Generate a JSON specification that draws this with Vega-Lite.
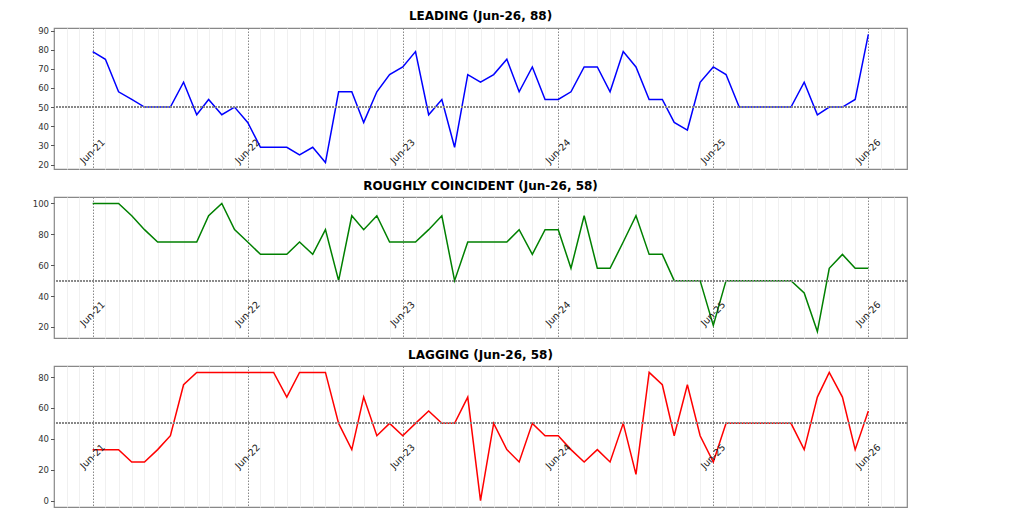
{
  "$schema": "https://vega.github.io/schema/vega-lite/v6.json",
  "padding": {"left": 31, "top": 8, "right": 5, "bottom": 5},
  "spacing": 9,
  "data": {
    "format": {"parse": {"date": "utc:'%Y-%m-%d'"}},
    "values": [
      {"date": "2021-06-01", "leading": 79, "coincident": 100, "lagging": 33},
      {"date": "2021-07-01", "leading": 75, "coincident": 100, "lagging": 33},
      {"date": "2021-08-01", "leading": 58, "coincident": 100, "lagging": 33},
      {"date": "2021-09-01", "leading": 54, "coincident": 92, "lagging": 25},
      {"date": "2021-10-01", "leading": 50, "coincident": 83, "lagging": 25},
      {"date": "2021-11-01", "leading": 50, "coincident": 75, "lagging": 33},
      {"date": "2021-12-01", "leading": 50, "coincident": 75, "lagging": 42},
      {"date": "2022-01-01", "leading": 63, "coincident": 75, "lagging": 75},
      {"date": "2022-02-01", "leading": 46, "coincident": 75, "lagging": 83},
      {"date": "2022-03-01", "leading": 54, "coincident": 92, "lagging": 83},
      {"date": "2022-04-01", "leading": 46, "coincident": 100, "lagging": 83},
      {"date": "2022-05-01", "leading": 50, "coincident": 83, "lagging": 83},
      {"date": "2022-06-01", "leading": 42, "coincident": 75, "lagging": 83},
      {"date": "2022-07-01", "leading": 29, "coincident": 67, "lagging": 83},
      {"date": "2022-08-01", "leading": 29, "coincident": 67, "lagging": 83},
      {"date": "2022-09-01", "leading": 29, "coincident": 67, "lagging": 67},
      {"date": "2022-10-01", "leading": 25, "coincident": 75, "lagging": 83},
      {"date": "2022-11-01", "leading": 29, "coincident": 67, "lagging": 83},
      {"date": "2022-12-01", "leading": 21, "coincident": 83, "lagging": 83},
      {"date": "2023-01-01", "leading": 58, "coincident": 50, "lagging": 50},
      {"date": "2023-02-01", "leading": 58, "coincident": 92, "lagging": 33},
      {"date": "2023-03-01", "leading": 42, "coincident": 83, "lagging": 67},
      {"date": "2023-04-01", "leading": 58, "coincident": 92, "lagging": 42},
      {"date": "2023-05-01", "leading": 67, "coincident": 75, "lagging": 50},
      {"date": "2023-06-01", "leading": 71, "coincident": 75, "lagging": 42},
      {"date": "2023-07-01", "leading": 79, "coincident": 75, "lagging": 50},
      {"date": "2023-08-01", "leading": 46, "coincident": 83, "lagging": 58},
      {"date": "2023-09-01", "leading": 54, "coincident": 92, "lagging": 50},
      {"date": "2023-10-01", "leading": 29, "coincident": 50, "lagging": 50},
      {"date": "2023-11-01", "leading": 67, "coincident": 75, "lagging": 67},
      {"date": "2023-12-01", "leading": 63, "coincident": 75, "lagging": 0},
      {"date": "2024-01-01", "leading": 67, "coincident": 75, "lagging": 50},
      {"date": "2024-02-01", "leading": 75, "coincident": 75, "lagging": 33},
      {"date": "2024-03-01", "leading": 58, "coincident": 83, "lagging": 25},
      {"date": "2024-04-01", "leading": 71, "coincident": 67, "lagging": 50},
      {"date": "2024-05-01", "leading": 54, "coincident": 83, "lagging": 42},
      {"date": "2024-06-01", "leading": 54, "coincident": 83, "lagging": 42},
      {"date": "2024-07-01", "leading": 58, "coincident": 58, "lagging": 33},
      {"date": "2024-08-01", "leading": 71, "coincident": 92, "lagging": 25},
      {"date": "2024-09-01", "leading": 71, "coincident": 58, "lagging": 33},
      {"date": "2024-10-01", "leading": 58, "coincident": 58, "lagging": 25},
      {"date": "2024-11-01", "leading": 79, "coincident": 75, "lagging": 50},
      {"date": "2024-12-01", "leading": 71, "coincident": 92, "lagging": 17},
      {"date": "2025-01-01", "leading": 54, "coincident": 67, "lagging": 83},
      {"date": "2025-02-01", "leading": 54, "coincident": 67, "lagging": 75},
      {"date": "2025-03-01", "leading": 42, "coincident": 50, "lagging": 42},
      {"date": "2025-04-01", "leading": 38, "coincident": 50, "lagging": 75},
      {"date": "2025-05-01", "leading": 63, "coincident": 50, "lagging": 42},
      {"date": "2025-06-01", "leading": 71, "coincident": 21, "lagging": 25},
      {"date": "2025-07-01", "leading": 67, "coincident": 50, "lagging": 50},
      {"date": "2025-08-01", "leading": 50, "coincident": 50, "lagging": 50},
      {"date": "2025-09-01", "leading": 50, "coincident": 50, "lagging": 50},
      {"date": "2025-10-01", "leading": 50, "coincident": 50, "lagging": 50},
      {"date": "2025-11-01", "leading": 50, "coincident": 50, "lagging": 50},
      {"date": "2025-12-01", "leading": 50, "coincident": 50, "lagging": 50},
      {"date": "2026-01-01", "leading": 63, "coincident": 42, "lagging": 33},
      {"date": "2026-02-01", "leading": 46, "coincident": 17, "lagging": 67},
      {"date": "2026-03-01", "leading": 50, "coincident": 58, "lagging": 83},
      {"date": "2026-04-01", "leading": 50, "coincident": 67, "lagging": 67},
      {"date": "2026-05-01", "leading": 54, "coincident": 58, "lagging": 33},
      {"date": "2026-06-01", "leading": 88, "coincident": 58, "lagging": 58}
    ]
  },
  "vconcat": [
    {
      "title": "LEADING (Jun-26, 88)",
      "width": 853,
      "height": 141,
      "layer": [
        {
          "mark": {"type": "line", "color": "#0000ff", "strokeWidth": 1.5},
          "encoding": {
            "x": {
              "field": "date", "type": "temporal", "title": null,
              "scale": {"type": "utc", "domain": [{"year": 2021, "month": 3, "date": 2, "utc": true}, {"year": 2026, "month": 8, "date": 31, "utc": true}]},
              "axis": {
                "grid": true, "labels": false, "ticks": false, "domain": false,
                "tickCount": {"interval": "month", "step": 1},
                "gridColor": {"condition": {"test": "utcmonth(datum.value) == 5", "value": "#888888"}, "value": "#f0f0f0"},
                "gridDash": {"condition": {"test": "utcmonth(datum.value) == 5", "value": [1.5, 1.5]}, "value": []}
              }
            },
            "y": {
              "field": "leading", "type": "quantitative", "title": null,
              "scale": {"domain": [17.65, 91.35], "nice": false, "zero": false},
              "axis": {"values": [20, 30, 40, 50, 60, 70, 80, 90]}
            }
          }
        },
        {
          "mark": {"type": "rule", "color": "#888888", "strokeWidth": 1, "strokeDash": [1.5, 1.5]},
          "encoding": {"y": {"datum": 50, "title": null, "axis": {"values": [20, 30, 40, 50, 60, 70, 80, 90]}}}
        },
        {
          "transform": [{"filter": "utcmonth(datum.date) == 5"}],
          "mark": {"type": "text", "angle": 315, "align": "center", "baseline": "middle", "dx": 9.2, "dy": -9.2, "fontSize": 9.5, "color": "#222222"},
          "encoding": {
            "x": {"field": "date", "type": "temporal"},
            "y": {"datum": 20, "title": null, "axis": {"values": [20, 30, 40, 50, 60, 70, 80, 90]}},
            "text": {"field": "date", "type": "temporal", "timeUnit": "utcyearmonth", "format": "%b-%y"}
          }
        }
      ]
    },
    {
      "title": "ROUGHLY COINCIDENT (Jun-26, 58)",
      "width": 853,
      "height": 141,
      "layer": [
        {
          "mark": {"type": "line", "color": "#008000", "strokeWidth": 1.5},
          "encoding": {
            "x": {
              "field": "date", "type": "temporal", "title": null,
              "scale": {"type": "utc", "domain": [{"year": 2021, "month": 3, "date": 2, "utc": true}, {"year": 2026, "month": 8, "date": 31, "utc": true}]},
              "axis": {
                "grid": true, "labels": false, "ticks": false, "domain": false,
                "tickCount": {"interval": "month", "step": 1},
                "gridColor": {"condition": {"test": "utcmonth(datum.value) == 5", "value": "#888888"}, "value": "#f0f0f0"},
                "gridDash": {"condition": {"test": "utcmonth(datum.value) == 5", "value": [1.5, 1.5]}, "value": []}
              }
            },
            "y": {
              "field": "coincident", "type": "quantitative", "title": null,
              "scale": {"domain": [12.85, 104.15], "nice": false, "zero": false},
              "axis": {"values": [20, 40, 60, 80, 100]}
            }
          }
        },
        {
          "mark": {"type": "rule", "color": "#888888", "strokeWidth": 1, "strokeDash": [1.5, 1.5]},
          "encoding": {"y": {"datum": 50, "title": null, "axis": {"values": [20, 40, 60, 80, 100]}}}
        },
        {
          "transform": [{"filter": "utcmonth(datum.date) == 5"}],
          "mark": {"type": "text", "angle": 315, "align": "center", "baseline": "middle", "dx": 9.2, "dy": -9.2, "fontSize": 9.5, "color": "#222222"},
          "encoding": {
            "x": {"field": "date", "type": "temporal"},
            "y": {"datum": 20, "title": null, "axis": {"values": [20, 40, 60, 80, 100]}},
            "text": {"field": "date", "type": "temporal", "timeUnit": "utcyearmonth", "format": "%b-%y"}
          }
        }
      ]
    },
    {
      "title": "LAGGING (Jun-26, 58)",
      "width": 853,
      "height": 141,
      "layer": [
        {
          "mark": {"type": "line", "color": "#ff0000", "strokeWidth": 1.5},
          "encoding": {
            "x": {
              "field": "date", "type": "temporal", "title": null,
              "scale": {"type": "utc", "domain": [{"year": 2021, "month": 3, "date": 2, "utc": true}, {"year": 2026, "month": 8, "date": 31, "utc": true}]},
              "axis": {
                "grid": true, "labels": false, "ticks": false, "domain": false,
                "tickCount": {"interval": "month", "step": 1},
                "gridColor": {"condition": {"test": "utcmonth(datum.value) == 5", "value": "#888888"}, "value": "#f0f0f0"},
                "gridDash": {"condition": {"test": "utcmonth(datum.value) == 5", "value": [1.5, 1.5]}, "value": []}
              }
            },
            "y": {
              "field": "lagging", "type": "quantitative", "title": null,
              "scale": {"domain": [-4.15, 87.15], "nice": false, "zero": false},
              "axis": {"values": [0, 20, 40, 60, 80]}
            }
          }
        },
        {
          "mark": {"type": "rule", "color": "#888888", "strokeWidth": 1, "strokeDash": [1.5, 1.5]},
          "encoding": {"y": {"datum": 50, "title": null, "axis": {"values": [0, 20, 40, 60, 80]}}}
        },
        {
          "transform": [{"filter": "utcmonth(datum.date) == 5"}],
          "mark": {"type": "text", "angle": 315, "align": "center", "baseline": "middle", "dx": 9.2, "dy": -9.2, "fontSize": 9.5, "color": "#222222"},
          "encoding": {
            "x": {"field": "date", "type": "temporal"},
            "y": {"datum": 20, "title": null, "axis": {"values": [0, 20, 40, 60, 80]}},
            "text": {"field": "date", "type": "temporal", "timeUnit": "utcyearmonth", "format": "%b-%y"}
          }
        }
      ]
    }
  ],
  "config": {
    "font": "DejaVu Sans",
    "background": "white",
    "view": {"stroke": "#888888", "strokeWidth": 1.2},
    "title": {"font": "DejaVu Sans", "fontSize": 12, "fontWeight": "bold", "color": "#000000", "offset": 4, "anchor": "middle"},
    "axis": {"labelFont": "DejaVu Sans", "labelFontSize": 8.5, "labelColor": "#333333", "tickColor": "#555555", "tickSize": 3.5, "labelPadding": 2, "labelOverlap": false, "domain": false, "grid": false},
    "axisY": {"grid": false}
  }
}
